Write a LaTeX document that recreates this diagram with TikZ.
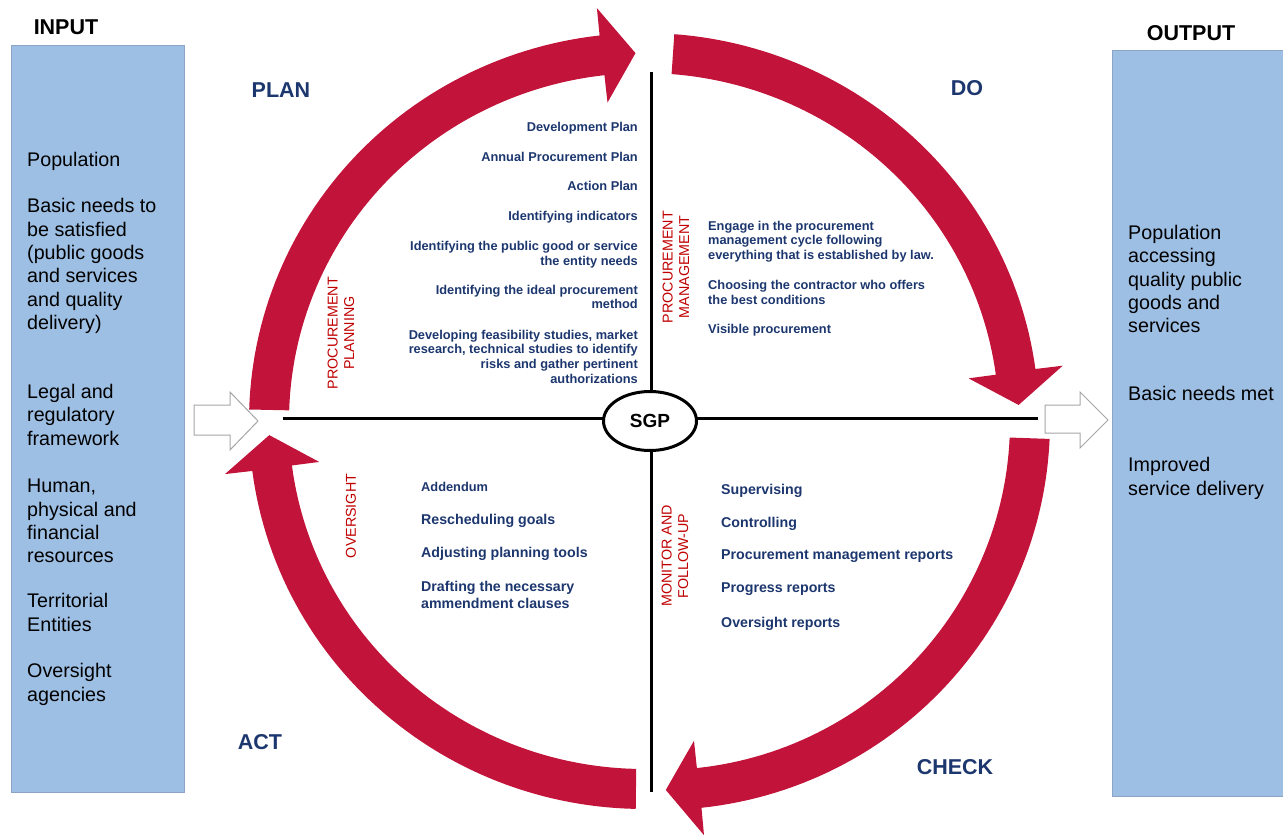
\documentclass[tikz,border=0pt]{standalone}
\usepackage{fontspec}
\setmainfont{Liberation Sans}
\usetikzlibrary{shapes.geometric}

\definecolor{ringred}{RGB}{194,20,58}
\definecolor{navy}{RGB}{28,54,110}
\definecolor{labelred}{RGB}{192,0,0}
\definecolor{boxblue}{RGB}{158,191,228}
\definecolor{boxedge}{RGB}{140,164,198}

\tikzset{
  phase/.style={font=\fontsize{21.5}{24}\selectfont\bfseries, text=navy, inner sep=0pt},
  item/.style={font=\fontsize{12.8}{14.7}\selectfont\bfseries, text=navy, inner sep=0pt},
  bigitem/.style={font=\fontsize{14.2}{16.7}\selectfont\bfseries, text=navy, inner sep=0pt},
  stage/.style={font=\fontsize{14.3}{16.5}\selectfont, text=labelred, rotate=90, align=center, inner sep=0pt},
  boxtext/.style={font=\fontsize{19.7}{23.3}\selectfont, text=black, inner sep=0pt, anchor=base west},
  iotitle/.style={font=\fontsize{21.5}{24}\selectfont\bfseries, text=black, inner sep=0pt},
  iobox/.style={draw=boxedge, fill=boxblue, line width=0.8pt, inner sep=0pt, anchor=north west},
  axis/.style={line width=3pt, black},
  hub/.style={ellipse, draw=black, line width=3pt, fill=white, minimum width=93pt, minimum height=59pt,
              inner sep=0pt, font=\fontsize{19}{22}\selectfont\bfseries},
  feed/.style={draw=black!35, fill=white, line width=1pt},
}

% Curved block arrow along an elliptical ring:
% #1,#2 centre; #3,#4 outer radii; #5,#6 inner radii; #7 tail angle; #8 head base angle; #9 tip angle
\newcommand\ringarrow[9]{%
  \fill[ringred]
    plot[domain=0:1, samples=60] ({#1+#3*cos(#7+(#8-#7)*\x)},{#2+#4*sin(#7+(#8-#7)*\x)})
    -- ({#1+(#3+27.5)*cos(#8)},{#2+(#4+27.5)*sin(#8)})
    -- ({#1+(#3-20)*cos(#9)},{#2+(#4-20)*sin(#9)})
    -- ({#1+(#5-27.5)*cos(#8)},{#2+(#6-27.5)*sin(#8)})
    -- plot[domain=0:1, samples=60] ({#1+#5*cos(#8+(#7-#8)*\x)},{#2+#6*sin(#8+(#7-#8)*\x)})
    -- cycle;}

\begin{document}
\begin{tikzpicture}[x=1pt,y=-1pt]
\useasboundingbox (0,0) rectangle (1283,836);

% input and output columns
\node[iobox, minimum width=173pt, minimum height=747pt] (inbox) at (11,45) {};
\node[iobox, minimum width=180pt, minimum height=746pt] (outbox) at (1112,50) {};
\node[iotitle] (inputtitle) at (66,27) {INPUT};
\node[iotitle] (outputtitle) at (1191,33) {OUTPUT};

\foreach \y/\t [count=\i] in {166/Population, 212.7/Basic needs to, 236/be satisfied,
    259.3/(public goods, 282.6/and services, 306/and quality, 329.3/delivery),
    398.3/Legal and, 421.7/regulatory, 445/framework,
    492.7/{Human,}, 516/physical and, 539.3/financial, 562.7/resources,
    607.7/Territorial, 631/Entities, 677.7/Oversight, 701/agencies}
  \node[boxtext] (in\i) at (27,\y) {\t};

\foreach \y/\t [count=\i] in {239.3/Population, 262.7/accessing, 286/quality public,
    309.3/goods and, 332.7/services, 400/Basic needs met, 471.7/Improved, 495/service delivery}
  \node[boxtext] (out\i) at (1128,\y) {\t};

% feed arrows into and out of the cycle
\draw[feed] (194,405) -- (230,405) -- (230,392) -- (258,421) -- (230,450) -- (230,435) -- (194,435) -- cycle;
\draw[feed] (1045,405) -- (1080,405) -- (1080,392) -- (1108,420) -- (1080,448) -- (1080,433) -- (1045,433) -- cycle;

% the four curved arrows of the cycle
\ringarrow{644}{421}{395}{388}{355}{348}{181.7}{263.6}{268.7}
\ringarrow{644}{421}{395}{388}{355}{348}{274.4}{352.35}{357.5}
\ringarrow{660}{422}{390}{388}{350}{348}{2.5}{83.95}{89.1}
\ringarrow{644}{421}{395}{388}{355}{348}{91.2}{172.66}{177.8}

% axes and hub
\coordinate (axtop) at (651,72);
\coordinate (axbottom) at (651,792);
\coordinate (axleft) at (283,418);
\coordinate (axright) at (1038,418);
\draw[axis] (axtop) -- (axbottom);
\draw[axis] (axleft) -- (axright);
\node[hub] (sgp) at (650,421) {SGP};

% phase names
\node[phase] (plan) at (281,90) {PLAN};
\node[phase] (do) at (967,88) {DO};
\node[phase] (act) at (260,742) {ACT};
\node[phase] (check) at (955,767) {CHECK};

% stage names
\node[stage] (stplan) at (341,333) {PROCUREMENT\\PLANNING};
\node[stage] (stdo) at (676,267) {PROCUREMENT\\MANAGEMENT};
\node[stage] (stcheck) at (675,556) {MONITOR AND\\FOLLOW-UP};
\node[stage] (stact) at (351,516) {OVERSIGHT};

% planning activities
\foreach \y/\t [count=\i] in {131.7/Development Plan, 161/Annual Procurement Plan, 190.7/Action Plan,
    220.7/Identifying indicators, 250/Identifying the public good or service, 265/the entity needs,
    294/Identifying the ideal procurement, 308.7/method,
    339/{Developing feasibility studies, market}, 353.5/{research, technical studies to identify},
    368/risks and gather pertinent, 383/authorizations}
  \node[item, anchor=base east] (pl\i) at (638,\y) {\t};

% management activities
\foreach \y/\t [count=\i] in {230/Engage in the procurement, 244.5/management cycle following,
    259/everything that is established by law., 289/Choosing the contractor who offers,
    304/the best conditions, 333/Visible procurement}
  \node[item, anchor=base west] (mg\i) at (708,\y) {\t};

% monitoring activities
\foreach \y/\t [count=\i] in {494/Supervising, 527.3/Controlling, 559.3/Procurement management reports,
    592.7/Progress reports, 627.3/Oversight reports}
  \node[bigitem, anchor=base west] (mn\i) at (721,\y) {\t};

% oversight activities
\node[item, anchor=base west] (ov1) at (421,491) {Addendum};
\foreach \y/\t [count=\i from 2] in {524/Rescheduling goals, 557.7/Adjusting planning tools,
    591.7/Drafting the necessary, 608.3/ammendment clauses}
  \node[bigitem, anchor=base west] (ov\i) at (421,\y) {\t};
\end{tikzpicture}
\end{document}
